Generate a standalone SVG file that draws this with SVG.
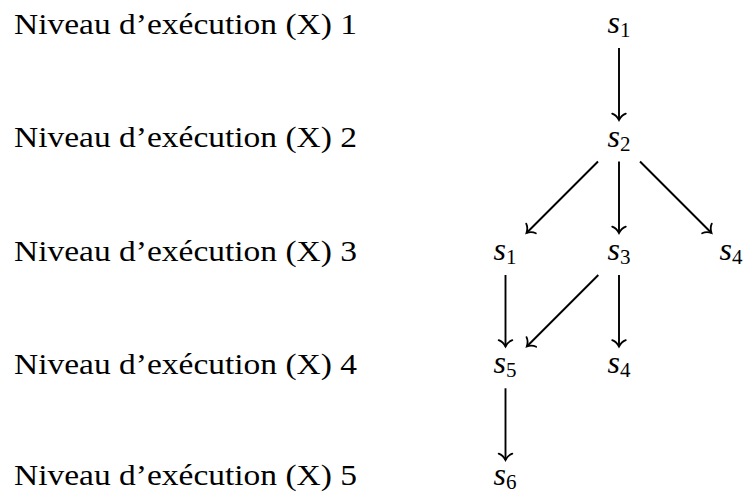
<svg xmlns="http://www.w3.org/2000/svg" width="744" height="495" viewBox="0 0 744 495">
<defs>
<style>
.lbl{font-family:"Liberation Serif","DejaVu Serif",serif;font-size:29px;fill:#000}
.nd{font-family:"Liberation Serif","DejaVu Serif",serif;font-size:32px;fill:#000;text-anchor:middle}
.nd .s{font-style:italic}
.nd .sub{font-size:21px}
.edge{stroke:#000;stroke-width:1.9;fill:none;marker-end:url(#to)}
</style>
<marker id="to" markerUnits="userSpaceOnUse" viewBox="-8 -8 10 16" refX="0" refY="0" markerWidth="10" markerHeight="16" orient="auto" overflow="visible">
<path d="M -6.4,-6.8 C -5,-3 -1.8,-0.9 0,0 C -1.8,0.9 -5,3 -6.4,6.8" stroke="#000" stroke-width="1.8" fill="none" stroke-linecap="round"/>
</marker>
</defs>
<rect width="744" height="495" fill="#fff"/>
<g id="labels">
<text class="lbl" x="14" y="34" textLength="343" lengthAdjust="spacingAndGlyphs">Niveau d’exécution (X) 1</text>
<text class="lbl" x="14" y="147" textLength="343" lengthAdjust="spacingAndGlyphs">Niveau d’exécution (X) 2</text>
<text class="lbl" x="14" y="261" textLength="343" lengthAdjust="spacingAndGlyphs">Niveau d’exécution (X) 3</text>
<text class="lbl" x="14" y="374" textLength="343" lengthAdjust="spacingAndGlyphs">Niveau d’exécution (X) 4</text>
<text class="lbl" x="14" y="485" textLength="343" lengthAdjust="spacingAndGlyphs">Niveau d’exécution (X) 5</text>
</g>
<g id="n1a"><text class="nd" x="619" y="33"><tspan class="s">s</tspan><tspan class="sub" dy="4">1</tspan></text></g>
<g id="n2"><text class="nd" x="619" y="147"><tspan class="s">s</tspan><tspan class="sub" dy="4">2</tspan></text></g>
<g id="n1b"><text class="nd" x="505" y="260"><tspan class="s">s</tspan><tspan class="sub" dy="4">1</tspan></text></g>
<g id="n3"><text class="nd" x="619" y="260"><tspan class="s">s</tspan><tspan class="sub" dy="4">3</tspan></text></g>
<g id="n4a"><text class="nd" x="731" y="260"><tspan class="s">s</tspan><tspan class="sub" dy="4">4</tspan></text></g>
<g id="n5"><text class="nd" x="505" y="373"><tspan class="s">s</tspan><tspan class="sub" dy="4">5</tspan></text></g>
<g id="n4b"><text class="nd" x="619" y="373"><tspan class="s">s</tspan><tspan class="sub" dy="4">4</tspan></text></g>
<g id="n6"><text class="nd" x="505" y="485"><tspan class="s">s</tspan><tspan class="sub" dy="4">6</tspan></text></g>
<g id="connectors">
<line class="edge" x1="619" y1="48" x2="619" y2="120"/>
<line class="edge" x1="598" y1="161.5" x2="526.5" y2="233"/>
<line class="edge" x1="619" y1="161.5" x2="619" y2="233"/>
<line class="edge" x1="640" y1="161.5" x2="711.5" y2="233"/>
<line class="edge" x1="505.5" y1="275" x2="505.5" y2="346.5"/>
<line class="edge" x1="598.3" y1="275" x2="526.8" y2="346.5"/>
<line class="edge" x1="619" y1="275" x2="619" y2="346.5"/>
<line class="edge" x1="505.5" y1="388.3" x2="505.5" y2="460"/>
</g>
</svg>
